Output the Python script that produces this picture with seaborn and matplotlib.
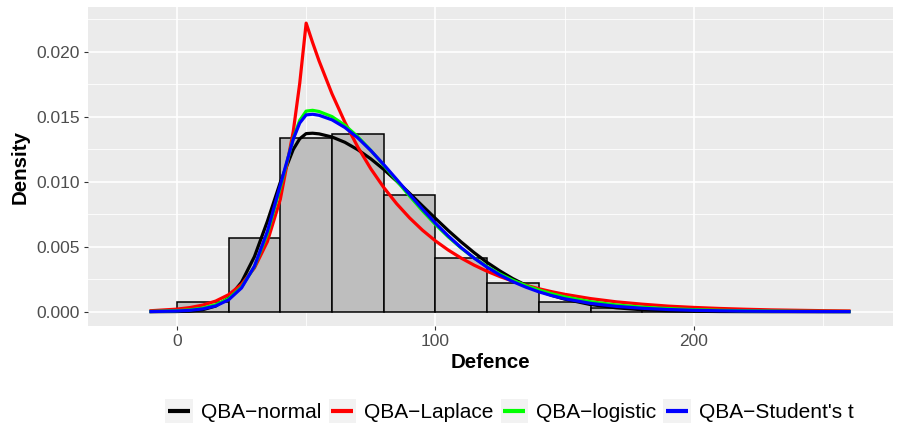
import numpy as np
import pandas as pd
import matplotlib
matplotlib.use("Agg")
import matplotlib.pyplot as plt
from matplotlib.lines import Line2D
from matplotlib.patches import Rectangle
from matplotlib.legend_handler import HandlerBase
import seaborn as sns

# ---- histogram of Defence (density scale, bin width 20) ----
bin_edges = [0, 20, 40, 60, 80, 100, 120, 140, 160, 180, 200, 220, 240]
bar_density = [0.00072, 0.00565, 0.01334, 0.01367, 0.00900, 0.00411,
               0.00223, 0.00077, 0.00026, 0.00015, 0.00008, 0.00008]

# ---- fitted QBA densities evaluated on a common grid ----
x_grid = [-10, 0, 5, 10, 15, 20, 25, 30, 35, 40, 45, 47.5, 50, 52.5, 55, 60,
          65, 70, 75, 80, 85, 90, 95, 100, 105, 110, 115, 120, 125, 130, 135,
          140, 145, 150, 160, 170, 180, 190, 200, 210, 220, 230, 240, 250, 260]

qba_normal = [0.0000007, 0.0000135, 0.000049, 0.000156, 0.000435, 0.00106,
              0.00227, 0.00424, 0.00695, 0.00995, 0.01248, 0.01330, 0.01370,
              0.01373, 0.01368, 0.01344, 0.01303, 0.01246, 0.01176, 0.01095,
              0.01005, 0.00911, 0.00814, 0.00718, 0.00624, 0.00536, 0.00454,
              0.00379, 0.00313, 0.00254, 0.00204, 0.00161, 0.00126, 0.00097,
              0.00055, 0.00030, 0.00015, 0.000074, 0.000034, 0.000015,
              0.000006, 0.000002, 0.000001, 0.0, 0.0]

qba_laplace = [0.000077, 0.000199, 0.000318, 0.00051, 0.000818, 0.00131,
               0.0021, 0.00337, 0.00539, 0.00864, 0.01385, 0.01754, 0.0222,
               0.0207, 0.01929, 0.01676, 0.01457, 0.01266, 0.0110, 0.00956,
               0.00831, 0.00722, 0.00627, 0.00545, 0.00474, 0.00412, 0.00358,
               0.00311, 0.0027, 0.00235, 0.00204, 0.00177, 0.00154, 0.00134,
               0.00101, 0.00076, 0.00058, 0.00043, 0.00033, 0.00025, 0.00019,
               0.00014, 0.00011, 0.00008, 0.00006]

qba_logistic = [0.00002, 0.0000755, 0.000146, 0.000279, 0.000534, 0.00101,
                0.0019, 0.00346, 0.0060, 0.00956, 0.01332, 0.01471, 0.01543,
                0.01549, 0.0154, 0.01501, 0.01434, 0.01346, 0.01241, 0.01127,
                0.01008, 0.0089, 0.00776, 0.00671, 0.00575, 0.00489, 0.00413,
                0.00347, 0.0029, 0.00242, 0.00201, 0.00167, 0.00138, 0.00114,
                0.00077, 0.00052, 0.00035, 0.00024, 0.00016, 0.00011, 0.00007,
                0.00005, 0.00003, 0.00002, 0.000015]

qba_student_t = [0.0000136, 0.000052, 0.000105, 0.000216, 0.000445, 0.000914,
                 0.00183, 0.0035, 0.00618, 0.00975, 0.01327, 0.01451, 0.01514,
                 0.01519, 0.01511, 0.01476, 0.01417, 0.01337, 0.0124, 0.01132,
                 0.01018, 0.00902, 0.00789, 0.00681, 0.00582, 0.00492, 0.00412,
                 0.00342, 0.00282, 0.00231, 0.00189, 0.00153, 0.00124,
                 0.000997, 0.000643, 0.000413, 0.000265, 0.00017, 0.000109,
                 0.000071, 0.000046, 0.00003, 0.00002, 0.000013, 0.000009]

model_names = ["QBA\u2212normal", "QBA\u2212Laplace", "QBA\u2212logistic",
               "QBA\u2212Student's t"]
model_colors = ["#000000", "#FF0000", "#00FF00", "#0000FF"]

x_ticks = [0, 100, 200]
y_ticks = [0.000, 0.005, 0.010, 0.015, 0.020]
y_tick_labels = ["0.000", "0.005", "0.010", "0.015", "0.020"]

# ---- long-form table of the curves ----
curves = pd.concat(
    [pd.DataFrame({"Defence": x_grid, "density": vals, "model": name})
     for name, vals in zip(model_names,
                           [qba_normal, qba_laplace, qba_logistic, qba_student_t])],
    ignore_index=True)

bin_left = np.array(bin_edges[:-1], dtype=float)
bin_mid = bin_left + np.diff(bin_edges) / 2

# ---- styling (grey panel, white grid) ----
plt.rcParams["font.family"] = ["Liberation Sans", "DejaVu Sans"]
panel_bg = "#EBEBEB"

fig, ax = plt.subplots(figsize=(9.05, 4.26), dpi=100)
fig.subplots_adjust(left=0.0972, right=0.9867, top=0.9836, bottom=0.2347)
ax.set_facecolor(panel_bg)

sns.histplot(x=bin_mid, weights=bar_density, bins=bin_edges, stat="count",
             color="#BEBEBE", edgecolor="black", linewidth=1.1, alpha=1.0,
             ax=ax, zorder=2)

sns.lineplot(data=curves, x="Defence", y="density", hue="model",
             hue_order=model_names, palette=model_colors, linewidth=2.3,
             sort=False, estimator=None, legend=False, ax=ax, zorder=3)

ax.set_xlim(-34.4, 277.0)
ax.set_ylim(-0.0011, 0.02344)

ax.set_xticks(x_ticks)
ax.set_xticklabels([str(t) for t in x_ticks])
ax.set_xticks([50, 150, 250], minor=True)
ax.set_yticks(y_ticks)
ax.set_yticklabels(y_tick_labels)
ax.set_yticks([0.0025, 0.0075, 0.0125, 0.0175, 0.0225], minor=True)

ax.grid(which="major", color="white", linewidth=1.2, zorder=0)
ax.grid(which="minor", color="white", linewidth=0.6, zorder=0)
ax.set_axisbelow(True)
for s in ax.spines.values():
    s.set_visible(False)

ax.tick_params(axis="both", which="major", length=3.2, width=0.8,
               color="#333333", labelcolor="#4D4D4D", labelsize=12.5, pad=2.5)
ax.tick_params(axis="both", which="minor", length=0)

ax.set_xlabel("Defence", fontsize=14.8, fontweight="bold", labelpad=3)
ax.set_ylabel("Density", fontsize=14.8, fontweight="bold", labelpad=5)


# ---- legend keys drawn on a light grey square, as in ggplot ----
class KeyWithBackground(HandlerBase):
    def create_artists(self, legend, orig_handle, xdescent, ydescent,
                       width, height, fontsize, trans):
        bg = Rectangle((-xdescent, -ydescent), width, height,
                       facecolor="#F2F2F2", edgecolor="none", transform=trans)
        y = -ydescent + height / 2
        ln = Line2D([-xdescent + 0.1 * width, -xdescent + 0.9 * width], [y, y],
                    color=orig_handle.get_color(), linewidth=3.0,
                    solid_capstyle="butt", transform=trans)
        return [bg, ln]


handles = [Line2D([], [], color=c, linewidth=2.3) for c in model_colors]
fig.legend(handles, model_names, loc="center", bbox_to_anchor=(0.563, 0.035),
           ncol=4, frameon=False, fontsize=15, handlelength=1.3,
           handleheight=1.39, handletextpad=0.4, columnspacing=0.35,
           borderpad=0, borderaxespad=0,
           handler_map={Line2D: KeyWithBackground()})

fig.savefig("out.png", dpi=100)
